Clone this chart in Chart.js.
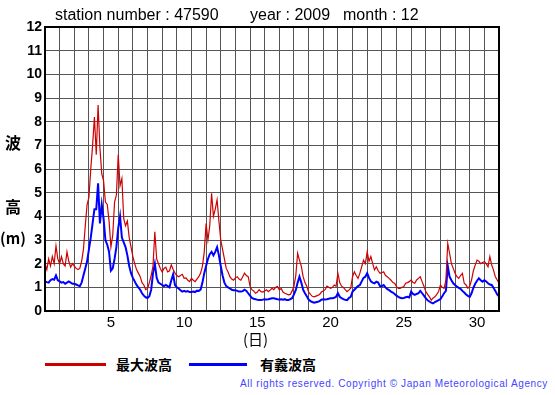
<!DOCTYPE html>
<html>
<head>
<meta charset="utf-8">
<script src="https://cdn.jsdelivr.net/npm/chart.js@4"></script>
<style>
  html, body { margin:0; padding:0; background:#fff; }
  body { width:555px; height:395px; position:relative; overflow:hidden; font-family:"Liberation Sans", Arial, sans-serif; }
  #wrap { position:absolute; left:0; top:0; width:555px; height:330px; }
  .t { position:absolute; white-space:nowrap; color:#000; }
  .title { font-size:16px; top:6px; }
  .yl { font-family:"Noto Sans CJK JP", sans-serif; font-weight:bold; font-size:16px; left:5px; }
  .leg { font-family:"Noto Sans CJK JP", sans-serif; font-weight:bold; font-size:14px; top:354px; }
  .sw { position:absolute; height:3px; top:363px; }
  .copy { font-size:10px; color:#4444ff; top:378px; left:240px; letter-spacing:0.6px; }
</style>
</head>
<body>
<div id="wrap"><canvas id="c" width="555" height="330"></canvas></div>
<div class="t title" style="left:55px">station number : 47590</div>
<div class="t title" style="left:250px">year : 2009</div>
<div class="t title" style="left:343px">month : 12</div>
<div class="t yl" style="top:130px">波</div>
<div class="t yl" style="top:194px">高</div>
<div class="t yl" style="top:227px;left:0px;font-size:15px">(m)</div>
<div class="t" style="left:243px;top:328px;font-family:'Noto Sans CJK JP',sans-serif;font-size:15px">(日)</div>
<div class="sw" style="left:45px;width:61px;background:#cc0000"></div>
<div class="t leg" style="left:116px">最大波高</div>
<div class="sw" style="left:189px;width:58px;background:#0000ff"></div>
<div class="t leg" style="left:260px">有義波高</div>
<div class="t copy">All rights reserved. Copyright © Japan Meteorological Agency</div>
<script>
// Observations every 3 hours (8 per day), Dec 1 00h .. Jan 1 00h, wave height in metres
const SAMPLES_PER_DAY = 8;
const seriesNames = ['最大波高', '有義波高'];
const xTickLabels = ['5', '10', '15', '20', '25', '30'];
const yTicks = [0,1,2,3,4,5,6,7,8,9,10,11,12];

const maxWave = [
  2.0,1.75,2.2,1.9,2.3,2.0,2.75,2.2,
  2.0,2.3,2.0,1.9,2.5,2.1,1.85,2.0,
  1.9,1.8,1.75,1.8,2.1,2.6,3.6,4.5,
  4.8,6.0,7.0,8.2,6.6,8.7,6.9,5.8,
  5.5,4.6,4.5,3.8,2.7,3.2,4.6,4.9,
  6.6,5.3,5.6,3.9,3.6,3.8,3.1,2.7,
  2.3,2.0,1.75,1.6,1.45,1.2,1.1,0.9,
  0.95,1.2,1.5,1.9,3.35,2.2,2.0,1.8,
  1.65,1.8,1.85,1.65,1.7,1.95,1.75,1.6,
  1.5,1.45,1.5,1.55,1.38,1.4,1.3,1.24,
  1.38,1.3,1.24,1.35,1.45,1.6,1.9,2.5,
  3.7,3.0,3.6,4.97,4.0,4.3,4.7,3.8,
  3.0,2.6,2.2,1.8,1.65,1.45,1.35,1.3,
  1.4,1.45,1.35,1.3,1.45,1.6,1.5,1.45,
  1.05,0.9,0.85,0.75,0.8,0.9,0.82,0.8,
  0.85,0.9,0.82,0.88,0.96,0.9,1.0,1.03,
  0.89,0.95,0.8,0.75,0.72,0.68,0.7,0.85,
  1.05,1.5,2.44,2.15,1.9,1.45,1.2,1.05,
  0.8,0.7,0.62,0.6,0.63,0.66,0.7,0.8,
  0.85,0.9,1.05,1.0,0.96,1.0,1.1,1.05,
  1.59,1.2,1.05,1.0,0.9,0.82,0.88,0.96,
  1.45,1.66,1.5,1.38,1.6,1.87,2.15,2.0,
  2.5,2.1,2.3,2.0,1.73,1.87,1.7,1.59,
  1.62,1.66,1.5,1.45,1.38,1.3,1.2,1.17,
  1.03,0.96,0.96,1.0,1.03,1.17,1.2,1.24,
  1.31,1.2,1.17,1.31,1.38,1.45,1.24,1.05,
  0.82,0.7,0.6,0.46,0.55,0.6,0.7,0.82,
  1.1,1.0,0.96,1.3,2.86,2.44,2.0,1.8,
  1.59,1.45,1.38,1.5,1.59,1.17,1.1,0.96,
  1.05,1.31,1.7,1.94,2.15,2.1,2.0,2.05,
  2.08,2.0,1.87,2.3,1.95,1.73,1.45,1.31,
  1.17
];

const sigWave = [
  1.25,1.22,1.2,1.3,1.35,1.32,1.5,1.3,
  1.25,1.2,1.22,1.15,1.2,1.25,1.2,1.15,
  1.15,1.12,1.08,1.05,1.2,1.5,1.8,2.1,
  2.6,3.1,3.7,4.3,4.3,5.4,3.7,4.5,
  3.9,3.0,2.8,2.5,1.7,1.8,2.2,2.7,
  3.5,4.0,3.1,2.9,2.7,2.35,1.9,1.6,
  1.4,1.25,1.1,1.0,0.9,0.75,0.65,0.58,
  0.55,0.62,0.9,1.6,2.0,1.4,1.2,1.15,
  1.1,1.05,1.1,1.05,1.0,1.3,1.55,1.1,
  1.0,0.95,0.88,0.82,0.85,0.82,0.84,0.8,
  0.8,0.82,0.8,0.86,0.85,0.9,1.2,1.6,
  1.9,2.2,2.4,2.5,2.35,2.5,2.7,2.35,
  1.9,1.5,1.2,1.05,1.0,0.95,0.9,0.88,
  0.88,0.85,0.82,0.82,0.84,0.9,0.85,0.75,
  0.65,0.55,0.52,0.5,0.47,0.46,0.46,0.48,
  0.5,0.49,0.5,0.52,0.54,0.54,0.52,0.5,
  0.49,0.5,0.48,0.5,0.46,0.46,0.5,0.54,
  0.7,0.89,1.2,1.45,1.2,0.9,0.75,0.62,
  0.48,0.42,0.38,0.35,0.37,0.39,0.42,0.48,
  0.5,0.49,0.5,0.52,0.54,0.54,0.56,0.6,
  0.75,0.6,0.54,0.5,0.47,0.46,0.55,0.6,
  0.82,0.9,0.98,1.05,1.1,1.25,1.4,1.45,
  1.6,1.4,1.25,1.2,1.17,1.24,1.2,1.05,
  1.05,1.1,1.0,0.92,0.88,0.82,0.78,0.72,
  0.65,0.6,0.56,0.54,0.55,0.58,0.6,0.57,
  0.82,0.72,0.68,0.72,0.75,0.85,0.75,0.65,
  0.54,0.45,0.4,0.35,0.32,0.38,0.42,0.46,
  0.5,0.62,0.75,0.85,1.9,1.45,1.3,1.17,
  1.1,1.03,0.98,0.94,0.85,0.78,0.7,0.64,
  0.6,0.75,0.98,1.15,1.28,1.38,1.3,1.24,
  1.3,1.25,1.17,1.12,1.1,0.98,0.85,0.7,
  0.62
];

const toPoints = arr => arr.map((v, i) => ({ x: i / SAMPLES_PER_DAY, y: v }));

const frame = {
  id: 'frame',
  afterDatasetsDraw(chart) {
    const a = chart.chartArea, c = chart.ctx;
    c.save();
    c.strokeStyle = '#000';
    c.lineWidth = 2;
    c.strokeRect(a.left, a.top, a.right - a.left, a.bottom - a.top);
    c.restore();
  }
};

new Chart(document.getElementById('c'), {
  type: 'line',
  data: {
    datasets: [
      { label: seriesNames[0], data: toPoints(maxWave), borderColor: '#d00000', borderWidth: 1.2, pointRadius: 0, tension: 0 },
      { label: seriesNames[1], data: toPoints(sigWave), borderColor: '#0000ff', borderWidth: 2, pointRadius: 0, tension: 0 }
    ]
  },
  options: {
    responsive: false,
    animation: false,
    layout: { padding: { top: 27, right: 56, left: 0, bottom: 0 } },
    plugins: { legend: { display: false }, tooltip: { enabled: false } },
    scales: {
      x: {
        type: 'linear', min: 0, max: 31,
        afterBuildTicks(scale) {
          const t = [];
          for (let d = 0; d <= 31; d++) t.push({ value: d });
          xTickLabels.forEach(l => t.push({ value: Number(l) - 0.5, label: l }));
          t.sort((a, b) => a.value - b.value);
          scale.ticks = t;
        },
        afterFit(scale) { scale.height = 19; },
        ticks: {
          autoSkip: false, maxRotation: 0, padding: 3,
          color: '#000', font: { family: 'Liberation Sans', size: 15 },
          callback(v) { return Number.isInteger(v) ? '' : String(v + 0.5); }
        },
        grid: {
          drawTicks: false,
          color: ctx => (ctx.tick && Number.isInteger(ctx.tick.value)) ? '#555555' : 'rgba(0,0,0,0)',
          lineWidth: 1
        },
        border: { display: false }
      },
      y: {
        min: 0, max: 12,
        afterBuildTicks(scale) { scale.ticks = yTicks.map(v => ({ value: v })); },
        afterFit(scale) { scale.width = 45; },
        ticks: { padding: 3, color: '#000', font: { family: 'Liberation Sans', size: 14, weight: 'bold' } },
        grid: { drawTicks: false, color: '#555555', lineWidth: 1 },
        border: { display: false }
      }
    }
  },
  plugins: [frame]
});
</script>
</body>
</html>
